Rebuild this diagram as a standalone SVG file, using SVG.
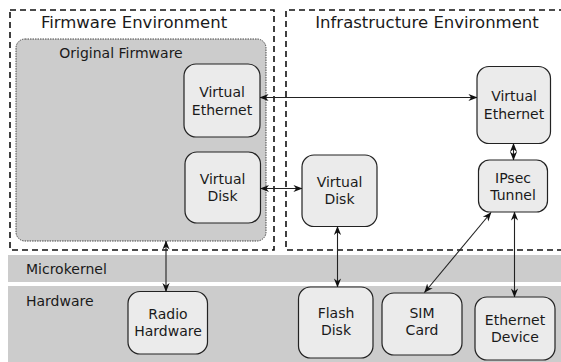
<svg xmlns="http://www.w3.org/2000/svg" width="561" height="362" viewBox="0 0 561 362">
  <style>
    text { font-family: "DejaVu Sans", "Liberation Sans", sans-serif; fill: #1a1a1a; }
    .title { font-size: 16.5px; text-anchor: middle; }
    .label { font-size: 14px; }
    .node rect { fill: #ebebeb; stroke: #222; stroke-width: 1.2; }
    .node text { font-size: 14px; text-anchor: middle; }
    .band { fill: #cccccc; }
    .env { fill: none; stroke: #111; stroke-width: 1.6; stroke-dasharray: 6 4; }
    .conn line { stroke: #222; stroke-width: 1.1; marker-start: url(#head); marker-end: url(#head); }
  </style>
  <defs>
    <marker id="head" viewBox="0 0 10 10" refX="9.5" refY="5" markerWidth="9" markerHeight="9" markerUnits="userSpaceOnUse" orient="auto-start-reverse">
      <path d="M0,1 L10,5 L0,9 L3,5 Z" fill="#111"/>
    </marker>
  </defs>

  <!-- layers -->
  <g id="microkernel">
    <rect class="band" x="8" y="255" width="553" height="27"/>
    <text class="label" x="26" y="274">Microkernel</text>
  </g>
  <g id="hardware">
    <rect class="band" x="8" y="286" width="553" height="76"/>
    <text class="label" x="26" y="306">Hardware</text>
  </g>

  <!-- environments -->
  <g id="firmware-env">
    <rect class="env" x="10" y="10" width="264" height="240"/>
    <text class="title" x="134" y="28">Firmware Environment</text>
  </g>
  <g id="infra-env">
    <path class="env" d="M565,10 H286 V250 H565"/>
    <text class="title" x="427" y="28">Infrastructure Environment</text>
  </g>

  <g id="original-firmware">
    <rect x="16" y="39" width="250" height="202" rx="9" fill="#cccccc" stroke="#333" stroke-width="0.9" stroke-dasharray="1.5 1"/>
    <text class="label" x="121" y="58" text-anchor="middle">Original Firmware</text>
  </g>

  <!-- nodes -->
  <g id="fw-virtual-ethernet" class="node">
    <rect x="184" y="64" width="76" height="73" rx="12"/>
    <text x="222" y="97">Virtual</text>
    <text x="222" y="115">Ethernet</text>
  </g>
  <g id="fw-virtual-disk" class="node">
    <rect x="185" y="152" width="75.5" height="71" rx="12"/>
    <text x="222.5" y="184">Virtual</text>
    <text x="222.5" y="201">Disk</text>
  </g>
  <g id="inf-virtual-ethernet" class="node">
    <rect x="477" y="66.5" width="73.5" height="77" rx="12"/>
    <text x="514" y="101">Virtual</text>
    <text x="514" y="119">Ethernet</text>
  </g>
  <g id="ipsec-tunnel" class="node">
    <rect x="478.5" y="160" width="69" height="52" rx="11"/>
    <text x="513" y="183">IPsec</text>
    <text x="513" y="200">Tunnel</text>
  </g>
  <g id="inf-virtual-disk" class="node">
    <rect x="302" y="155" width="75" height="71.5" rx="12"/>
    <text x="339.5" y="187">Virtual</text>
    <text x="339.5" y="204">Disk</text>
  </g>
  <g id="radio-hardware" class="node">
    <rect x="128" y="291.5" width="79.5" height="62.5" rx="12"/>
    <text x="168" y="319">Radio</text>
    <text x="168" y="336">Hardware</text>
  </g>
  <g id="flash-disk" class="node">
    <rect x="298.5" y="287" width="74.5" height="71" rx="12"/>
    <text x="336" y="318">Flash</text>
    <text x="336" y="335">Disk</text>
  </g>
  <g id="sim-card" class="node">
    <rect x="382" y="293" width="80" height="62" rx="12"/>
    <text x="422" y="318">SIM</text>
    <text x="422" y="335">Card</text>
  </g>
  <g id="ethernet-device" class="node">
    <rect x="475" y="297" width="80" height="63" rx="12"/>
    <text x="515" y="325">Ethernet</text>
    <text x="515" y="342">Device</text>
  </g>

  <!-- connectors -->
  <g id="connectors" class="conn">
    <line x1="260" y1="97.5" x2="477" y2="97.5"/>
    <line x1="260.5" y1="188.5" x2="302" y2="188.5"/>
    <line x1="513.5" y1="143.5" x2="513.5" y2="160"/>
    <line x1="337.5" y1="226.5" x2="337.5" y2="287"/>
    <line x1="491" y1="212.5" x2="424.5" y2="292.5"/>
    <line x1="514.5" y1="212" x2="514.5" y2="297"/>
    <line x1="166" y1="241" x2="166" y2="291.5"/>
  </g>
</svg>
